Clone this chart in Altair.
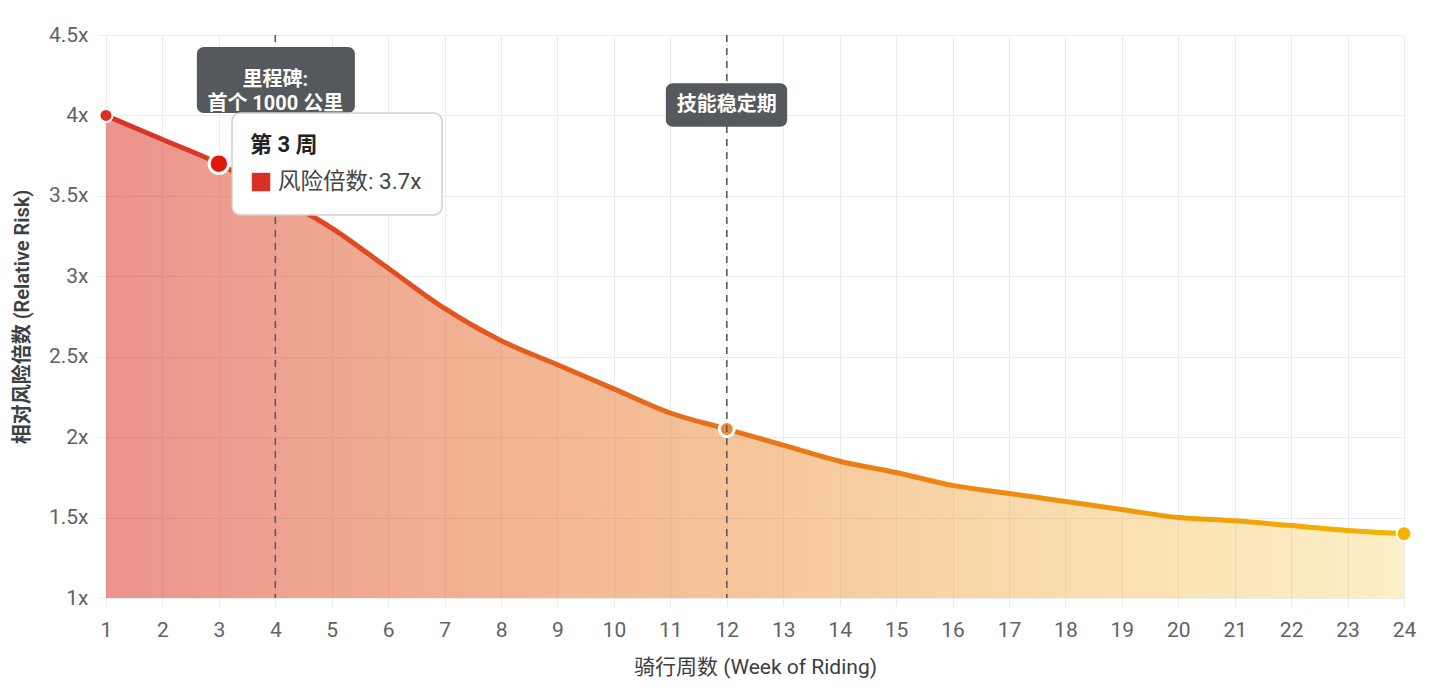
import altair as alt
import pandas as pd

# ---------------- data ----------------
weeks = list(range(1, 25))
risk = [4.0, 3.85, 3.7, 3.5, 3.3, 3.05, 2.8, 2.6, 2.45, 2.3, 2.15, 2.05,
        1.95, 1.85, 1.78, 1.7, 1.65, 1.6, 1.55, 1.5, 1.48, 1.45, 1.42, 1.4]
y_ticks = [1, 1.5, 2, 2.5, 3, 3.5, 4, 4.5]

point_weeks = [1, 3, 12, 24]
point_colors = ["#d93025", "#e1170b", "#ec8a42", "#f4b400"]
point_sizes = [170, 380, 227, 220]
point_strokes = [2, 3, 3, 2]

marker_weeks = [4, 12]
marker_labels = ["里程碑:\n首个 1000 公里", "技能稳定期"]
# label boxes in data units (week, risk)
box_x1 = [2.61, 10.92]
box_x2 = [5.41, 13.07]
box_y1 = [4.015, 3.93]
box_y2 = [4.425, 4.20]
label_y = [4.22, 4.065]

# hover tooltip on week 3
tip_title = "第 3 周"
tip_body = "风险倍数: 3.7x"
tip_box = dict(x=3.233, x2=6.954, y=3.381, y2=4.015)
tip_title_pos = (3.55, 3.816)
tip_swatch_pos = (3.747, 3.586)
tip_body_pos = (4.048, 3.586)

FONT = "Roboto, 'Noto Sans CJK SC', sans-serif"

df = pd.DataFrame({"week": weeks, "risk": risk})
pts = pd.DataFrame({
    "week": point_weeks,
    "risk": [risk[w - 1] for w in point_weeks],
    "color": point_colors,
    "size": point_sizes,
    "sw": point_strokes,
})
marks_df = pd.DataFrame({
    "week": marker_weeks, "label": marker_labels,
    "x1": box_x1, "x2": box_x2, "y1": box_y1, "y2": box_y2, "ly": label_y,
})

xscale = alt.Scale(domain=[1, 24], nice=False, zero=False)
yscale = alt.Scale(domain=[1, 4.5], nice=False, zero=False)

xaxis = alt.Axis(values=weeks, format="d", labelFlush=False, labelOverlap=False,
                 title="骑行周数 (Week of Riding)",
                 titleFontWeight="normal", labelPadding=13, titlePadding=16)
yaxis = alt.Axis(values=y_ticks, title="相对风险倍数 (Relative Risk)",
                 labelExpr="datum.value + 'x'", titleFontWeight=600,
                 titleFontSize=20,
                 labelFlush=False, labelPadding=10, titlePadding=16)

area_grad = alt.Gradient(
    gradient="linear", x1=0, x2=1, y1=0, y2=0,
    stops=[alt.GradientStop(color="rgba(217,48,37,0.52)", offset=0),
           alt.GradientStop(color="rgba(232,113,10,0.42)", offset=0.48),
           alt.GradientStop(color="rgba(244,180,0,0.22)", offset=1)])
line_grad = alt.Gradient(
    gradient="linear", x1=0, x2=1, y1=0, y2=0,
    stops=[alt.GradientStop(color="#d93025", offset=0),
           alt.GradientStop(color="#e8711a", offset=0.48),
           alt.GradientStop(color="#f4b400", offset=1)])

base = alt.Chart(df)

area = base.mark_area(interpolate="monotone", fill=area_grad).encode(
    x=alt.X("week:Q", scale=xscale, axis=xaxis),
    y=alt.Y("risk:Q", scale=yscale, axis=yaxis),
    y2=alt.datum(1),
)

line = base.mark_line(interpolate="monotone", stroke=line_grad,
                      strokeWidth=5, strokeCap="round",
                      strokeJoin="round").encode(
    x=alt.X("week:Q", scale=xscale),
    y=alt.Y("risk:Q", scale=yscale),
)

points = alt.Chart(pts).mark_circle(opacity=1, stroke="white").encode(
    x=alt.X("week:Q", scale=xscale),
    y=alt.Y("risk:Q", scale=yscale),
    color=alt.Color("color:N", scale=None),
    size=alt.Size("size:Q", scale=None),
    strokeWidth=alt.StrokeWidth("sw:Q", scale=None),
)

rules = alt.Chart(marks_df).mark_rule(color="#5a5d62", strokeWidth=1.6,
                                      strokeDash=[7, 6]).encode(
    x=alt.X("week:Q", scale=xscale),
)

boxes = alt.Chart(marks_df).mark_rect(color="#55585d", cornerRadius=7).encode(
    x=alt.X("x1:Q", scale=xscale), x2="x2:Q",
    y=alt.Y("y1:Q", scale=yscale), y2="y2:Q",
)

box_text = alt.Chart(marks_df).mark_text(
    color="white", fontWeight="bold", fontSize=20, font=FONT,
    lineBreak="\n", lineHeight=24, align="center", baseline="middle").encode(
    x=alt.X("week:Q", scale=xscale),
    y=alt.Y("ly:Q", scale=yscale),
    text="label:N",
)

tip_df = pd.DataFrame([tip_box])
tip_rect = alt.Chart(tip_df).mark_rect(
    fill="white", stroke="#cfcfcf", strokeWidth=1.5, cornerRadius=8).encode(
    x=alt.X("x:Q", scale=xscale), x2="x2:Q",
    y=alt.Y("y:Q", scale=yscale), y2="y2:Q",
)
tip_title_text = alt.Chart(pd.DataFrame({"x": [tip_title_pos[0]], "y": [tip_title_pos[1]], "t": [tip_title]})).mark_text(
    fontSize=22, font=FONT, fontWeight="bold", color="#222222",
    align="left", baseline="middle").encode(
    x=alt.X("x:Q", scale=xscale),
    y=alt.Y("y:Q", scale=yscale),
    text="t:N",
)
tip_body_text = alt.Chart(pd.DataFrame({"x": [tip_body_pos[0]], "y": [tip_body_pos[1]], "t": [tip_body]})).mark_text(
    fontSize=22.5, font=FONT, fontWeight="normal", color="#444444",
    align="left", baseline="middle").encode(
    x=alt.X("x:Q", scale=xscale),
    y=alt.Y("y:Q", scale=yscale),
    text="t:N",
)
tip_sw = alt.Chart(pd.DataFrame({"x": [tip_swatch_pos[0]], "y": [tip_swatch_pos[1]]})).mark_square(
    size=340, color="#d93025", opacity=1, filled=True).encode(
    x=alt.X("x:Q", scale=xscale),
    y=alt.Y("y:Q", scale=yscale),
)

chart = alt.layer(area, line, points, rules, boxes, box_text,
                  tip_rect, tip_title_text, tip_body_text, tip_sw).properties(
    width=1298, height=563,
    autosize=alt.AutoSizeParams(type="none"),
    padding={"left": 98, "top": 27, "right": 28, "bottom": 85},
    background="white",
).configure_view(stroke=None).configure_axis(
    grid=True, gridColor="#ececec", gridWidth=1,
    ticks=True, tickColor="#ececec", tickSize=8,
    domain=False,
    labelFont=FONT, labelFontSize=21, labelColor="#5f6368",
    titleFont=FONT, titleFontSize=21, titleColor="#3c4043",
)

chart.save("out.html", embed_options={"renderer": "svg", "actions": False})
